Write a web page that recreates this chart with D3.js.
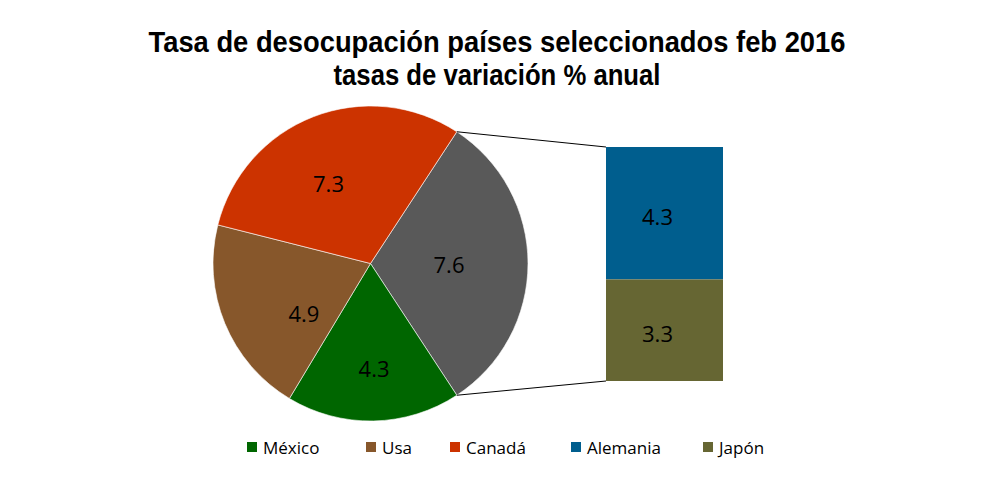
<!DOCTYPE html>
<html><head><meta charset="utf-8">
<script src="https://cdn.jsdelivr.net/npm/d3@7"></script>
<style>body{margin:0;background:#fff}</style>
</head><body>
<script>
const pieCategories = ["Otros", "México", "Usa", "Canadá"];
const pieValues = [7.6, 4.3, 4.9, 7.3];
const pieColors = ["#595959", "#006600", "#87572B", "#CC3300"];
const barCategories = ["Alemania", "Japón"];
const barValues = [4.3, 3.3];
const barColors = ["#005E8E", "#666633"];
const legendNames = ["México", "Usa", "Canadá", "Alemania", "Japón"];
const legendColors = ["#006600", "#87572B", "#CC3300", "#005E8E", "#666633"];

const W = 994, H = 481;
const svg = d3.select("body").append("svg").attr("width", W).attr("height", H);

const titleFont = "'Liberation Sans Narrow','Arial Narrow','Liberation Sans',Arial,sans-serif";
const body = "'Open Sans','Liberation Sans',sans-serif";

svg.append("text").attr("x", 497).attr("y", 52).attr("text-anchor", "middle")
  .attr("font-family", titleFont).attr("font-weight", "bold").attr("font-size", 29)
  .attr("textLength", 697).attr("lengthAdjust", "spacingAndGlyphs")
  .text("Tasa de desocupación países seleccionados feb 2016");
svg.append("text").attr("x", 497).attr("y", 85).attr("text-anchor", "middle")
  .attr("font-family", titleFont).attr("font-weight", "bold").attr("font-size", 29)
  .attr("textLength", 327).attr("lengthAdjust", "spacingAndGlyphs")
  .text("tasas de variación % anual");

const cx = 370.5, cy = 263.5, R = 157.5;
const total = d3.sum(pieValues);
const otherAngle = pieValues[0] / total * 2 * Math.PI;
const start = Math.PI / 2 - otherAngle / 2;
const pie = d3.pie().sort(null).value(d => d).startAngle(start).endAngle(start + 2 * Math.PI);
const arcs = pie(pieValues);
const arc = d3.arc().innerRadius(0).outerRadius(R);
const g = svg.append("g").attr("transform", `translate(${cx},${cy})`);
g.selectAll("path").data(arcs).join("path")
  .attr("d", arc).attr("fill", (d, i) => pieColors[i])
  .attr("stroke", "#fff").attr("stroke-width", 0.6);
// label placement (Excel "best fit"): angle shift in degrees and radius per slice
const labelPlace = [[1.1, 78.5], [-0.8, 105.6], [-15, 83.8], [-6.7, 89.5]];
g.selectAll("text").data(arcs).join("text")
  .attr("transform", (d, i) => {
    const a = (d.startAngle + d.endAngle) / 2 + labelPlace[i][0] * Math.PI / 180;
    const r = labelPlace[i][1];
    return `translate(${r * Math.sin(a)},${-r * Math.cos(a)})`;
  })
  .attr("text-anchor", "middle").attr("dy", "0.36em")
  .attr("font-family", body).attr("font-size", 22).attr("fill", "#000")
  .text(d => d.value.toFixed(1));

// bar of pie
const barX = 606, barW = 117, barTop = 147, barBottom = 381;
const y = d3.scaleLinear().domain([0, d3.sum(barValues)]).range([barTop, barBottom]);
let acc = 0;
const stacks = barValues.map((v, i) => { const s = { v, i, y0: acc, y1: acc + v }; acc += v; return s; });
svg.selectAll("rect.bar").data(stacks).join("rect").attr("class", "bar")
  .attr("x", barX).attr("width", barW)
  .attr("y", d => y(d.y0)).attr("height", d => y(d.y1) - y(d.y0))
  .attr("fill", d => barColors[d.i]);
svg.selectAll("text.bl").data(stacks).join("text").attr("class", "bl")
  .attr("x", barX + barW / 2 - 7).attr("y", d => (y(d.y0) + y(d.y1)) / 2 + 4)
  .attr("dy", "0.36em").attr("text-anchor", "middle")
  .attr("font-family", body).attr("font-size", 22).text(d => d.v.toFixed(1));

// connector lines
const a0 = arcs[0].startAngle, a1 = arcs[0].endAngle;
const p0 = [cx + R * Math.sin(a0), cy - R * Math.cos(a0)];
const p1 = [cx + R * Math.sin(a1), cy - R * Math.cos(a1)];
svg.append("line").attr("x1", p0[0]).attr("y1", p0[1]).attr("x2", barX).attr("y2", barTop)
  .attr("stroke", "#000").attr("stroke-width", 1);
svg.append("line").attr("x1", p1[0]).attr("y1", p1[1]).attr("x2", barX).attr("y2", barBottom)
  .attr("stroke", "#000").attr("stroke-width", 1);

// legend
const legX = [247, 366, 450, 571, 703];
const lg = svg.selectAll("g.leg").data(legendNames).join("g").attr("class", "leg")
  .attr("transform", (d, i) => `translate(${legX[i]},442)`);
lg.append("rect").attr("width", 10).attr("height", 10).attr("fill", (d, i) => legendColors[i]);
lg.append("text").attr("x", 16).attr("y", 5.5).attr("dy", "0.36em")
  .attr("font-family", body).attr("font-size", 17).text(d => d);
</script>
</body></html>
